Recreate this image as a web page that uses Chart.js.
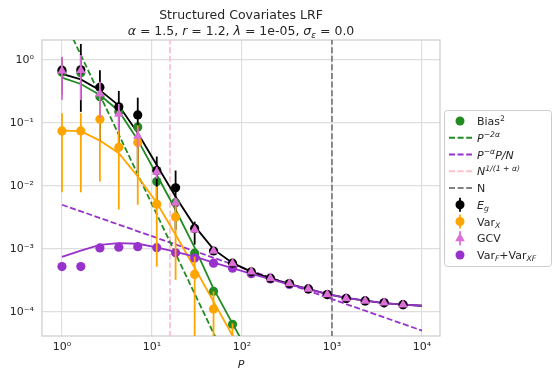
<!DOCTYPE html>
<html>
<head>
<meta charset="utf-8">
<script src="https://cdn.jsdelivr.net/npm/chart.js@4.4.0/dist/chart.umd.min.js"></script>
<style>
  html, body { margin: 0; padding: 0; background: #fff; }
</style>
</head>
<body>
<canvas id="chart" width="556" height="380"></canvas>
<script>
// sample sizes P (log spaced)
const pValues = [1, 1.62, 2.64, 4.28, 6.95, 11.3, 18.3, 29.8, 48.3, 78.5, 127, 207, 336, 546, 886, 1438, 2336, 3793, 6158, 10000];

// measured points
const bias2 = [0.64, 0.63, 0.26, 0.15, 0.0865, 0.0117, 0.0054, 8.5e-4, 2.1e-4, 6.3e-5];
const egMean = [0.69, 0.70, 0.37, 0.18, 0.134, 0.0175, 0.0093, 0.0021, 9.2e-4, 5.9e-4, 4.3e-4, 3.4e-4, 2.8e-4, 2.3e-4, 1.87e-4, 1.62e-4, 1.48e-4, 1.38e-4, 1.29e-4];
const egLow = [0.28, 0.15, 0.05, 0.038, 0.016, 0.0058, 0.002, 0.00116, 8.2e-4, 5.6e-4, 4.15e-4, 3.3e-4, 2.72e-4, 2.24e-4, 1.83e-4, 1.59e-4, 1.45e-4, 1.36e-4, 1.27e-4];
const egHigh = [1.1, 1.8, 0.69, 0.322, 0.252, 0.0292, 0.0175, 0.0027, 1.02e-3, 6.2e-4, 4.45e-4, 3.5e-4, 2.88e-4, 2.36e-4, 1.91e-4, 1.65e-4, 1.51e-4, 1.4e-4, 1.31e-4];
const varXMean = [0.0747, 0.0747, 0.114, 0.041, 0.0487, 0.0051, 0.0032, 3.9e-4, 1.1e-4, 2.5e-5];
const varXLow = [0.0079, 0.0079, 0.0117, 0.0042, 0.005, 5.2e-4, 3.2e-4, 1e-7, 1e-7, 1e-7];
const varXHigh = [0.143, 0.143, 0.216, 0.078, 0.092, 0.0097, 0.0061, 7.5e-4, 2.1e-4, 6.5e-5];
const gcvMean = [0.67, 0.68, 0.29, 0.139, 0.062, 0.0166, 0.0054, 0.002, 9.2e-4, 5.8e-4, 4.3e-4, 3.4e-4, 2.8e-4, 2.3e-4, 1.87e-4, 1.62e-4, 1.48e-4, 1.38e-4, 1.29e-4];
const gcvLow = [0.232, 0.23, 0.12, 0.075, 0.04, 0.013, 0.0045, 0.0018, 8.6e-4, 5.6e-4, 4.2e-4, 3.3e-4, 2.75e-4, 2.26e-4, 1.84e-4, 1.6e-4, 1.46e-4, 1.36e-4, 1.27e-4];
const gcvHigh = [1.13, 1.2, 0.45, 0.2, 0.085, 0.02, 0.0064, 0.0022, 9.8e-4, 6.0e-4, 4.4e-4, 3.5e-4, 2.85e-4, 2.34e-4, 1.9e-4, 1.64e-4, 1.5e-4, 1.4e-4, 1.31e-4];
const varFMean = [5.2e-4, 5.2e-4, 1.03e-3, 1.06e-3, 1.08e-3, 1.04e-3, 8.6e-4, 7.1e-4, 5.9e-4, 4.9e-4, 4.0e-4, 3.3e-4, 2.7e-4, 2.3e-4, 1.87e-4, 1.62e-4, 1.48e-4, 1.38e-4, 1.29e-4];

// theory curves
const egTheory = [0.60, 0.491, 0.332, 0.189, 0.069, 0.0214, 0.00672, 0.00229, 9.76e-4, 5.96e-4, 4.3e-4, 3.4e-4, 2.75e-4, 2.3e-4, 1.9e-4, 1.65e-4, 1.5e-4, 1.37e-4, 1.29e-4, 1.24e-4];
const biasTheory = [0.524, 0.416, 0.278, 0.155, 0.0537, 0.015, 0.00416, 0.00104, 2.32e-4, 6.45e-5, 1.86e-5, 5.4e-6];
const varXTheory = [0.0755, 0.0738, 0.0524, 0.033, 0.0141, 0.00537, 0.00167, 4.99e-4, 1.44e-4, 4.17e-5, 1.2e-5];
const varFTheory = [7.4e-4, 9.3e-4, 1.15e-3, 1.23e-3, 1.2e-3, 1.05e-3, 8.9e-4, 7.5e-4, 6.0e-4, 4.9e-4, 4.0e-4, 3.3e-4, 2.7e-4, 2.3e-4, 1.9e-4, 1.65e-4, 1.5e-4, 1.37e-4, 1.29e-4, 1.24e-4];

// reference lines (end points)
const slopeBiasX = [1, 10000];
const slopeBiasY = [5.1, 5.1e-12];
const slopeVarX = [1, 10000];
const slopeVarY = [5.0e-3, 5.0e-5];
const nCrit = 15.85;   // N^{1/(1+alpha)}
const nSamples = 1000; // N

const xTicks = [1, 10, 100, 1000, 10000];
const xTickLabels = ['10⁰', '10¹', '10²', '10³', '10⁴'];
const yTicks = [1e-4, 1e-3, 1e-2, 1e-1, 1];
const yTickLabels = ['10⁻⁴', '10⁻³', '10⁻²', '10⁻¹', '10⁰'];

const GREEN = '#238b23';
const ORANGE = '#ffa500';
const ORCHID = '#da70d6';
const PURPLE = '#9932cc';
const PINK = '#ffc0cb';
const GRAY = '#808080';
const FONT = '"DejaVu Sans", sans-serif';
const LW = 1.8;

function pts(ys) {
  return ys.map((y, i) => ({ x: pValues[i], y: y }));
}
function pairs(xs, ys) {
  return xs.map((x, i) => ({ x: x, y: ys[i] }));
}

function marks(label, ys, color, style, order, low, high) {
  return {
    label: label, data: pts(ys), showLine: false, order: order,
    pointStyle: style, pointRadius: style === 'triangle' ? 5.5 : 4.6,
    backgroundColor: color, borderColor: color, pointBorderWidth: 0,
    errLow: low, errHigh: high
  };
}
function curve(ys, color, order) {
  return {
    data: pts(ys), borderColor: color, borderWidth: LW, pointRadius: 0,
    order: order, tension: 0
  };
}
function dashed(data, color, order) {
  return {
    data: data, borderColor: color, borderWidth: LW, borderDash: [6, 2.6],
    pointRadius: 0, order: order
  };
}

// vertical error bars, drawn just before the markers of their dataset
const errorBars = {
  id: 'errorBars',
  beforeDatasetDraw(chart, args) {
    const ds = chart.data.datasets[args.index];
    if (!ds.errLow) return;
    const { ctx, chartArea: a, scales } = chart;
    ctx.save();
    ctx.beginPath();
    ctx.rect(a.left, a.top, a.right - a.left, a.bottom - a.top);
    ctx.clip();
    ctx.strokeStyle = ds.borderColor;
    ctx.lineWidth = LW;
    ds.data.forEach((p, i) => {
      if (p.y == null) return;
      const x = scales.x.getPixelForValue(p.x);
      const y1 = scales.y.getPixelForValue(ds.errLow[i]);
      const y2 = scales.y.getPixelForValue(ds.errHigh[i]);
      ctx.beginPath();
      ctx.moveTo(x, y1);
      ctx.lineTo(x, y2);
      ctx.stroke();
    });
    ctx.restore();
  }
};

// text with italic / super / subscript pieces: [text, flags]
function richWidth(ctx, parts, size) {
  let w = 0;
  parts.forEach(([t, f]) => {
    const s = (f.includes('^') || f.includes('_')) ? size * 0.7 : size;
    ctx.font = (f.includes('i') ? 'italic ' : '') + s + 'px ' + FONT;
    w += ctx.measureText(t).width;
  });
  return w;
}
function drawRich(ctx, parts, x, y, size, align) {
  let cx = align === 'center' ? x - richWidth(ctx, parts, size) / 2 : x;
  ctx.textBaseline = 'alphabetic';
  ctx.textAlign = 'left';
  parts.forEach(([t, f]) => {
    const small = f.includes('^') || f.includes('_');
    const s = small ? size * 0.7 : size;
    ctx.font = (f.includes('i') ? 'italic ' : '') + s + 'px ' + FONT;
    let dy = 0;
    if (f.includes('^')) dy = -size * 0.4;
    if (f.includes('_')) dy = size * 0.22;
    ctx.fillText(t, cx, y + dy);
    cx += ctx.measureText(t).width;
  });
}

const legendItems = [
  { kind: 'dot', color: GREEN, text: [['Bias', ''], ['2', '^']] },
  { kind: 'dash', color: GREEN, text: [['P', 'i'], ['−2α', 'i^']] },
  { kind: 'dash', color: PURPLE, text: [['P', 'i'], ['−α', 'i^'], ['P/N', 'i']] },
  { kind: 'dash', color: PINK, text: [['N', 'i'], ['1/(1 + α)', 'i^']] },
  { kind: 'dash', color: GRAY, text: [['N', '']] },
  { kind: 'err', color: '#000000', text: [['E', 'i'], ['g', 'i_']] },
  { kind: 'err', color: ORANGE, text: [['Var', ''], ['X', 'i_']] },
  { kind: 'errtri', color: ORCHID, text: [['GCV', '']] },
  { kind: 'dot', color: PURPLE, text: [['Var', ''], ['F', 'i_'], ['+Var', ''], ['XF', 'i_']] }
];

const decorations = {
  id: 'decorations',
  beforeDatasetsDraw(chart) {
    const { ctx, chartArea: a } = chart;
    ctx.save();
    ctx.strokeStyle = '#cccccc';
    ctx.lineWidth = 1.2;
    ctx.strokeRect(a.left, a.top, a.right - a.left, a.bottom - a.top);
    ctx.restore();
  },
  afterDraw(chart) {
    const { ctx, chartArea: a } = chart;
    ctx.save();
    ctx.fillStyle = '#262626';
    const cx = (a.left + a.right) / 2;
    ctx.textAlign = 'center';
    ctx.textBaseline = 'alphabetic';
    ctx.font = '12.5px ' + FONT;
    ctx.fillText('Structured Covariates LRF', cx, 19);
    drawRich(ctx, [['α', 'i'], [' = 1.5, ', ''], ['r', 'i'], [' = 1.2, ', ''], ['λ', 'i'],
      [' = 1e-05, ', ''], ['σ', 'i'], ['ε', 'i_'], [' = 0.0', '']], cx, 35, 12.5, 'center');

    // legend
    const lx = 444, ly = 110, lw = 107, lh = 156;
    ctx.fillStyle = 'rgba(255,255,255,0.8)';
    ctx.strokeStyle = '#cccccc';
    ctx.lineWidth = 1;
    ctx.beginPath();
    ctx.roundRect(lx + 0.5, ly + 0.5, lw, lh, 3);
    ctx.fill();
    ctx.stroke();
    legendItems.forEach((it, i) => {
      const y = ly + 11 + i * 16.75;
      const hx = 460;
      ctx.strokeStyle = it.color;
      ctx.fillStyle = it.color;
      ctx.lineWidth = LW;
      if (it.kind === 'dash') {
        ctx.setLineDash([6, 2.6]);
        ctx.beginPath();
        ctx.moveTo(449, y);
        ctx.lineTo(472, y);
        ctx.stroke();
        ctx.setLineDash([]);
      } else {
        if (it.kind !== 'dot') {
          ctx.beginPath();
          ctx.moveTo(hx, y - 7);
          ctx.lineTo(hx, y + 7);
          ctx.stroke();
        }
        ctx.beginPath();
        if (it.kind === 'errtri') {
          ctx.moveTo(hx, y - 5.5);
          ctx.lineTo(hx + 4.8, y + 3);
          ctx.lineTo(hx - 4.8, y + 3);
          ctx.closePath();
        } else {
          ctx.arc(hx, y, 4.5, 0, Math.PI * 2);
        }
        ctx.fill();
      }
      ctx.fillStyle = '#262626';
      drawRich(ctx, it.text, 477, y + 4, 11, 'left');
    });
    ctx.restore();
  }
};

const datasets = [
  marks('GCV', gcvMean, ORCHID, 'triangle', 1, gcvLow, gcvHigh),
  marks('VarX', varXMean, ORANGE, 'circle', 2, varXLow, varXHigh),
  marks('Eg', egMean, '#000000', 'circle', 3, egLow, egHigh),
  marks('VarF+VarXF', varFMean, PURPLE, 'circle', 4),
  marks('Bias2', bias2, GREEN, 'circle', 5),
  curve(varFTheory, PURPLE, 8),
  curve(egTheory, '#000000', 9),
  curve(biasTheory, GREEN, 10),
  curve(varXTheory, ORANGE, 11),
  dashed(pairs(slopeBiasX, slopeBiasY), GREEN, 12),
  dashed(pairs(slopeVarX, slopeVarY), PURPLE, 13),
  dashed([{ x: nCrit, y: 1e-7 }, { x: nCrit, y: 100 }], PINK, 14),
  dashed([{ x: nSamples, y: 1e-7 }, { x: nSamples, y: 100 }], GRAY, 15)
];

new Chart(document.getElementById('chart'), {
  type: 'line',
  data: { datasets: datasets },
  plugins: [errorBars, decorations],
  options: {
    responsive: false,
    animation: false,
    devicePixelRatio: 1,
    layout: { padding: { top: 40, right: 116, left: 0, bottom: 0 } },
    plugins: { legend: { display: false }, tooltip: { enabled: false } },
    scales: {
      x: {
        type: 'logarithmic', min: 0.631, max: 15849,
        afterBuildTicks: s => { s.ticks = xTicks.map(v => ({ value: v })); },
        afterFit: s => { s.height = 44; },
        ticks: {
          padding: 5, color: '#262626', font: { family: FONT, size: 11 },
          maxRotation: 0, autoSkip: false,
          callback: v => xTickLabels[xTicks.indexOf(v)]
        },
        grid: { color: '#dedede', lineWidth: 1.2, drawTicks: false },
        border: { display: false },
        title: { display: true, text: 'P', color: '#262626', padding: { top: 0, bottom: 8 },
          font: { family: FONT, size: 11, style: 'italic' } }
      },
      y: {
        type: 'logarithmic', min: 4.1e-5, max: 2.08,
        afterBuildTicks: s => { s.ticks = yTicks.map(v => ({ value: v })); },
        afterFit: s => { s.width = 42; },
        ticks: {
          padding: 8, color: '#262626', font: { family: FONT, size: 11 },
          autoSkip: false,
          callback: v => yTickLabels[yTicks.indexOf(v)]
        },
        grid: { color: '#dedede', lineWidth: 1.2, drawTicks: false },
        border: { display: false }
      }
    }
  }
});
</script>
</body>
</html>
